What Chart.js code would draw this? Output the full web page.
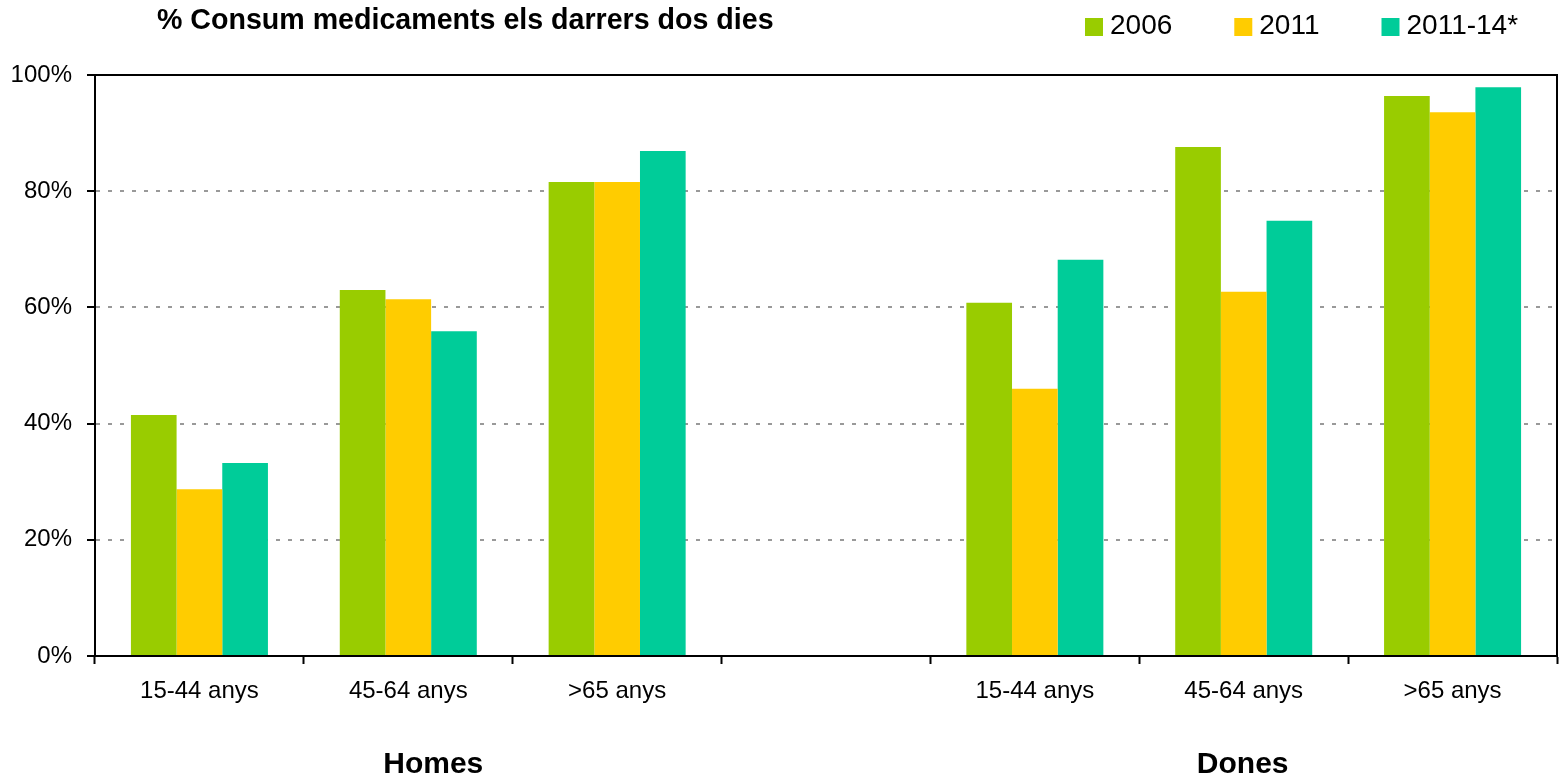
<!DOCTYPE html>
<html lang="ca">
<head>
<meta charset="UTF-8">
<title>% Consum medicaments els darrers dos dies</title>
<script src="https://cdn.jsdelivr.net/npm/chart.js"></script>
<style>
  body { margin: 0; background: #fff; }
  #wrap { width: 1559px; height: 780px; position: relative; }
</style>
</head>
<body>
<div id="wrap"><canvas id="chart"></canvas></div>
<script>
  const ageLabels = ['15-44 anys', '45-64 anys', '>65 anys', '', '15-44 anys', '45-64 anys', '>65 anys'];
  const groupLabels = ['Homes', 'Dones'];
  const seriesNames = ['2006', '2011', '2011-14*'];
  const values2006 = [41.5, 63.0, 81.6, null, 60.8, 87.6, 96.4];
  const values2011 = [28.7, 61.4, 81.6, null, 46.0, 62.7, 93.6];
  const values2011_14 = [33.2, 55.9, 86.9, null, 68.2, 74.9, 97.9];
  const yTicks = [0, 20, 40, 60, 80, 100];
  const colors = ['#99CC00', '#FFCC00', '#00CC99'];

  const FONT = "'Liberation Sans', Arial, sans-serif";
  const titleText = '% Consum medicaments els darrers dos dies';

  // title, legend, frame and the Homes / Dones captions
  const extras = {
    id: 'extras',
    beforeDatasetsDraw(chart) {
      const { ctx, chartArea: a } = chart;
      ctx.save();
      ctx.strokeStyle = '#000';
      ctx.lineWidth = 2;
      ctx.beginPath();
      ctx.moveTo(a.left, a.top);
      ctx.lineTo(a.right, a.top);
      ctx.lineTo(a.right, a.bottom);
      ctx.stroke();
      ctx.restore();
    },
    afterDraw(chart) {
      const { ctx } = chart;
      const x = chart.scales.x;
      ctx.save();
      ctx.fillStyle = '#000';
      ctx.textBaseline = 'middle';

      ctx.font = 'bold 28.6px ' + FONT;
      ctx.textAlign = 'left';
      ctx.fillText(titleText, 157, 21);

      // legend
      ctx.font = '28px ' + FONT;
      let lx = 1085;
      chart.data.datasets.forEach(ds => {
        ctx.fillStyle = ds.backgroundColor;
        ctx.fillRect(lx, 18, 18, 18);
        ctx.fillStyle = '#000';
        ctx.fillText(ds.label, lx + 25, 26);
        lx += 25 + ctx.measureText(ds.label).width + 62;
      });

      // group captions under the age labels
      ctx.font = 'bold 30px ' + FONT;
      ctx.textAlign = 'center';
      ctx.fillText(groupLabels[0], x.getPixelForValue(1) + 25, 765);
      ctx.fillText(groupLabels[1], x.getPixelForValue(5) - 1, 765);
      ctx.restore();
    }
  };

  new Chart(document.getElementById('chart'), {
    type: 'bar',
    data: {
      labels: ageLabels,
      datasets: [
        { label: seriesNames[0], data: values2006, backgroundColor: colors[0] },
        { label: seriesNames[1], data: values2011, backgroundColor: colors[1] },
        { label: seriesNames[2], data: values2011_14, backgroundColor: colors[2] }
      ]
    },
    options: {
      responsive: true,
      maintainAspectRatio: false,
      animation: false,
      layout: { padding: { top: 75, right: 2, bottom: 0, left: 0 } },
      datasets: {
        bar: { categoryPercentage: 0.656, barPercentage: 1.0 }
      },
      plugins: {
        legend: { display: false },
        title: { display: false },
        tooltip: { enabled: false }
      },
      scales: {
        x: {
          grid: {
            display: true,
            offset: true,
            drawOnChartArea: false,
            tickLength: 8,
            tickColor: '#000',
            tickWidth: 2
          },
          border: { display: true, color: '#000', width: 2 },
          ticks: {
            color: '#000',
            font: { family: FONT, size: 24 },
            padding: 13,
            maxRotation: 0,
            autoSkip: false
          },
          afterFit(scale) { scale.height = 124; }
        },
        y: {
          min: 0,
          max: 100,
          afterBuildTicks(scale) { scale.ticks = yTicks.map(v => ({ value: v })); },
          grid: {
            color: ctx => (ctx.tick && (ctx.tick.value === 0 || ctx.tick.value === 100)) ? 'rgba(0,0,0,0)' : '#999999',
            lineWidth: 2,
            tickLength: 8,
            tickColor: '#000',
            tickWidth: 2
          },
          border: { display: true, color: '#000', width: 2, dash: [4, 8] },
          ticks: {
            color: '#000',
            font: { family: FONT, size: 24 },
            padding: 15,
            callback: v => v + '%'
          },
          afterFit(scale) { scale.width = 95; }
        }
      }
    },
    plugins: [extras]
  });
</script>
</body>
</html>
